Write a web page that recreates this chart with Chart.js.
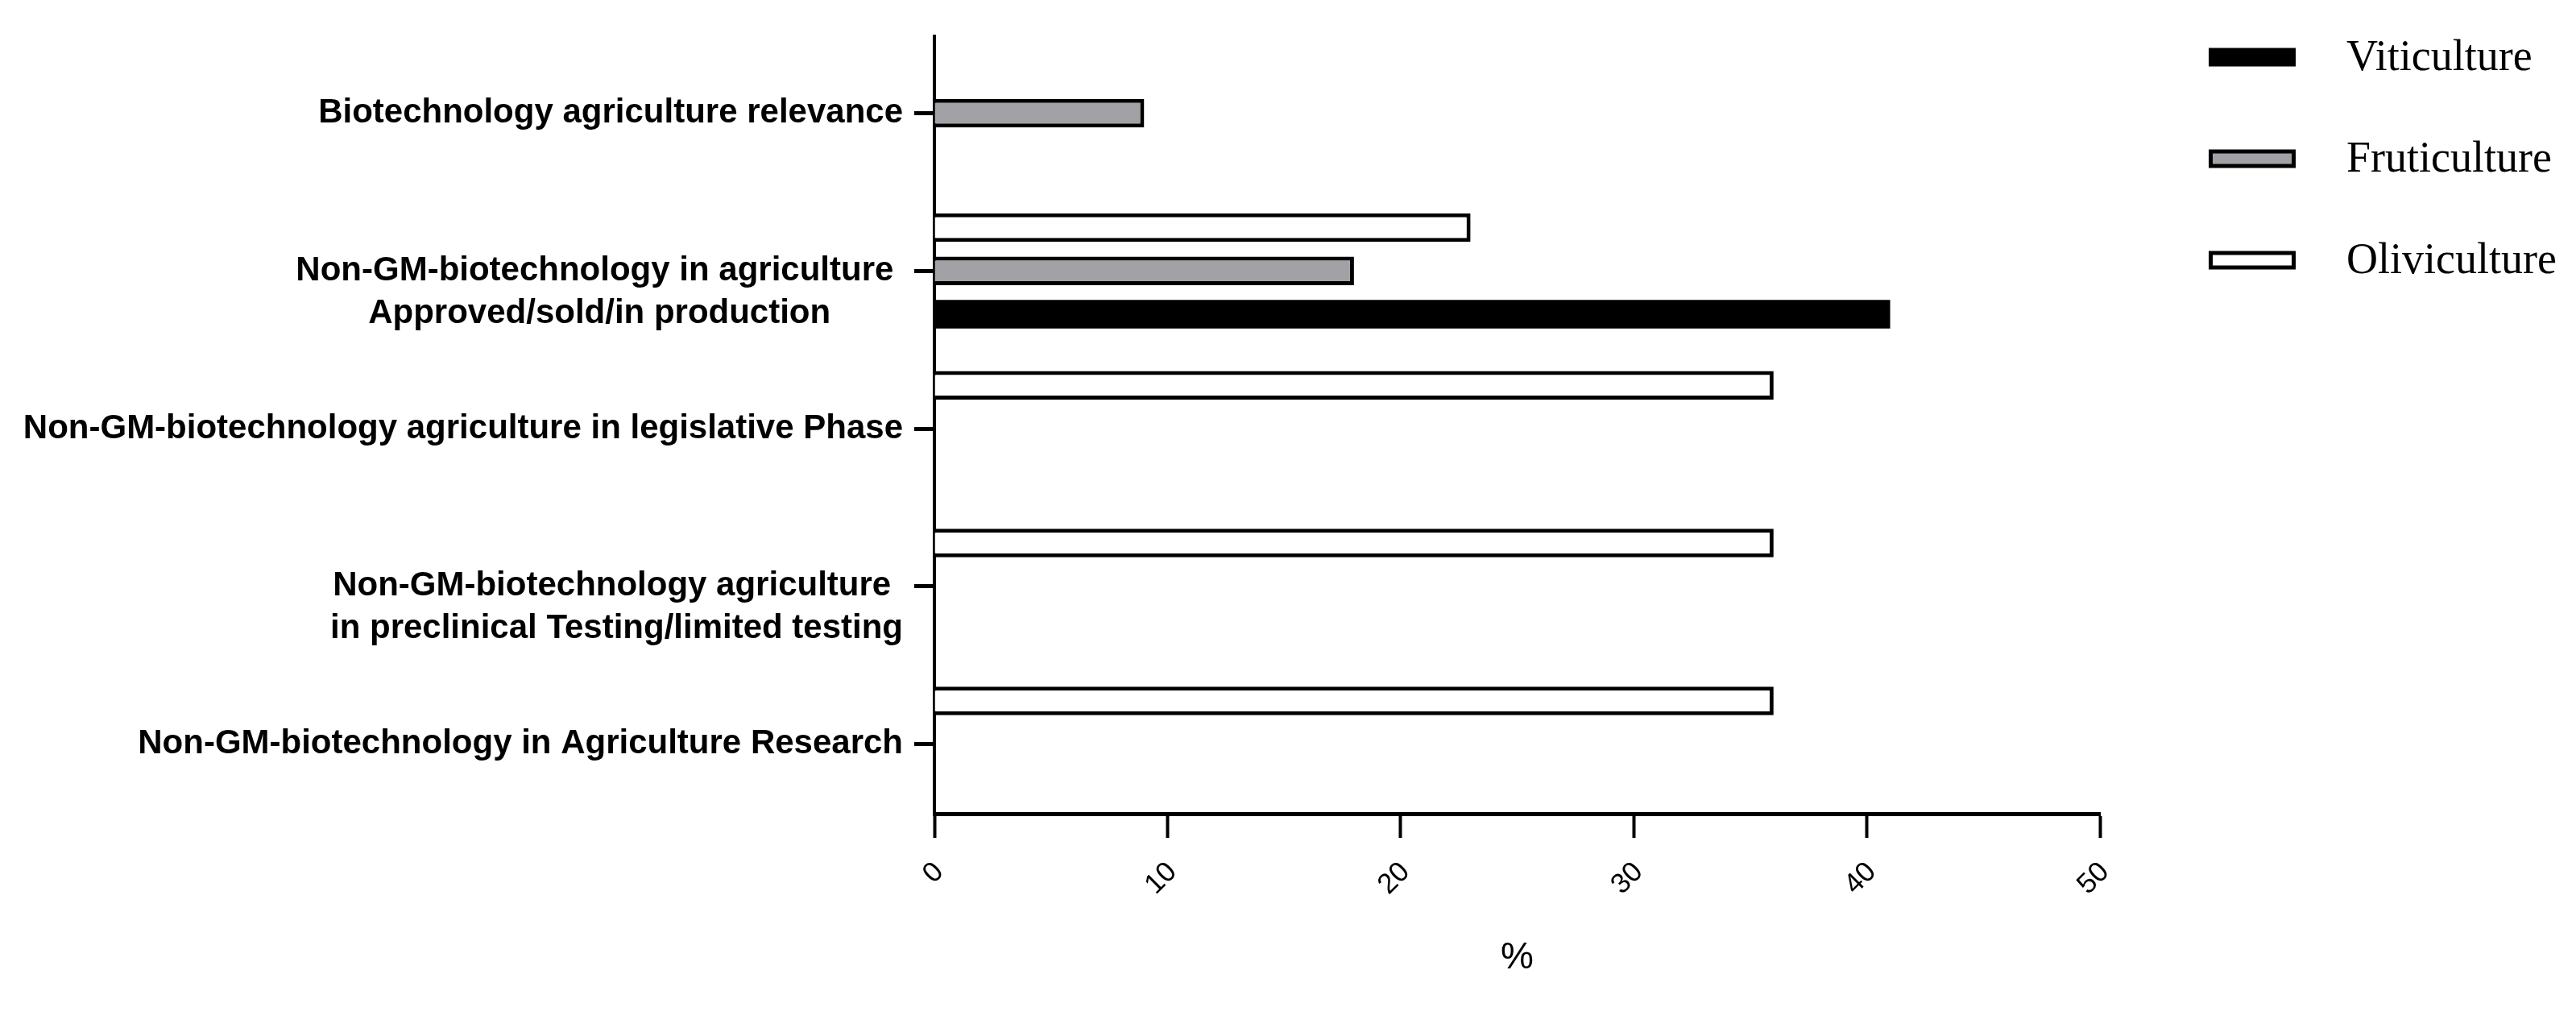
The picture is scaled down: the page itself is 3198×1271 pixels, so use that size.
<!DOCTYPE html>
<html>
<head>
<meta charset="utf-8">
<title>Non-GM biotechnology by sector</title>
<script src="https://cdn.jsdelivr.net/npm/chart.js@4.4.1/dist/chart.umd.min.js"></script>
<style>
  html, body { margin: 0; padding: 0; background: #fff; }
  canvas { display: block; }
</style>
</head>
<body>
<canvas id="sectorChart" width="3198" height="1271"></canvas>
<script>
// category labels, one entry per line
const categories = [
  ["Biotechnology agriculture relevance"],
  ["Non-GM-biotechnology in agriculture ", "Approved/sold/in production"],
  ["Non-GM-biotechnology agriculture in legislative Phase"],
  ["Non-GM-biotechnology agriculture ", "in preclinical Testing/limited testing"],
  ["Non-GM-biotechnology in Agriculture Research"]
];

const viticulture = [0, 41, 0, 0, 0];
const fruticulture = [9, 18, 0, 0, 0];
const oliviculture = [0, 23, 36, 36, 36];

const xTicks = [0, 10, 20, 30, 40, 50];

Chart.defaults.font.family = '"Liberation Sans", Arial, sans-serif';
Chart.defaults.color = "#000";

// bars sit on the category index, so each value gets its row number
const rows = values => values.map((v, i) => ({ x: v, y: i }));

// category labels: block right aligned at the tick, lines centred, first line on the tick
const yLabels = {
  id: "yLabels",
  afterDraw(chart) {
    const ctx = chart.ctx;
    const y = chart.scales.y;
    const right = y.right - 25 - 14;
    ctx.save();
    ctx.font = 'bold 42px "Liberation Sans", Arial, sans-serif';
    ctx.fillStyle = "#000";
    ctx.textAlign = "center";
    ctx.textBaseline = "middle";
    categories.forEach((lines, i) => {
      const py = y.getPixelForValue(i);
      const w = Math.max(...lines.map(l => ctx.measureText(l).width));
      lines.forEach((l, k) => ctx.fillText(l, right - w / 2, py + k * 53));
    });
    ctx.restore();
  }
};

// legend on the right, Viticulture first
const sideLegend = {
  id: "sideLegend",
  afterDraw(chart) {
    const ctx = chart.ctx;
    const area = chart.chartArea;
    const sets = chart.data.datasets.slice().reverse();
    const x0 = area.right + 135;
    ctx.save();
    ctx.font = '54px "Liberation Serif", "Times New Roman", serif';
    ctx.textBaseline = "middle";
    ctx.textAlign = "left";
    sets.forEach((ds, i) => {
      const cy = 71 + i * 126;
      const w = 108, h = 23;
      ctx.fillStyle = ds.borderColor;
      ctx.fillRect(x0, cy - h / 2, w, h);
      const b = ds.borderWidth;
      if (b > 0) {
        ctx.fillStyle = ds.backgroundColor;
        ctx.fillRect(x0 + b, cy - h / 2 + b, w - 2 * b, h - 2 * b);
      }
      ctx.fillStyle = "#000";
      ctx.fillText(ds.label, x0 + 171, cy + 2);
    });
    ctx.restore();
  }
};

const ctx = document.getElementById("sectorChart").getContext("2d");
new Chart(ctx, {
  type: "bar",
  data: {
    datasets: [
      {
        label: "Oliviculture",
        data: rows(oliviculture),
        backgroundColor: "#ffffff",
        borderColor: "#000000",
        borderWidth: 5
      },
      {
        label: "Fruticulture",
        data: rows(fruticulture),
        backgroundColor: "#a2a1a6",
        borderColor: "#000000",
        borderWidth: 5
      },
      {
        label: "Viticulture",
        data: rows(viticulture),
        backgroundColor: "#000000",
        borderColor: "#000000",
        borderWidth: 0
      }
    ]
  },
  options: {
    indexAxis: "y",
    responsive: false,
    animation: false,
    layout: { padding: { top: 45, right: 591, bottom: 0, left: 0 } },
    datasets: {
      bar: { categoryPercentage: 0.824, barPercentage: 0.66 }
    },
    plugins: {
      legend: { display: false },
      tooltip: { enabled: false }
    },
    scales: {
      y: {
        type: "linear",
        reverse: true,
        offset: false,
        bounds: "data",
        min: -0.488,
        max: 4.441,
        afterBuildTicks(scale) { scale.ticks = categories.map((c, i) => ({ value: i })); },
        grid: {
          offset: false,
          drawOnChartArea: false,
          tickLength: 25,
          tickWidth: 5,
          tickColor: "#000"
        },
        border: { color: "#000", width: 4 },
        ticks: { display: false },
        afterFit(scale) { scale.width = 1160; }
      },
      x: {
        type: "linear",
        min: 0,
        max: 50,
        afterBuildTicks(scale) { scale.ticks = xTicks.map(v => ({ value: v })); },
        grid: {
          drawOnChartArea: false,
          tickLength: 30,
          tickWidth: 4,
          tickColor: "#000"
        },
        border: { color: "#000", width: 5 },
        ticks: {
          font: { size: 35 },
          color: "#000",
          minRotation: 45,
          maxRotation: 45,
          padding: 22,
          labelOffset: 6
        },
        title: {
          display: true,
          text: "%",
          font: { size: 46 },
          color: "#000",
          padding: { top: 0, bottom: 54 }
        },
        afterFit(scale) { scale.height = 1271 - 1010; }
      }
    }
  },
  plugins: [yLabels, sideLegend]
});
</script>
</body>
</html>
